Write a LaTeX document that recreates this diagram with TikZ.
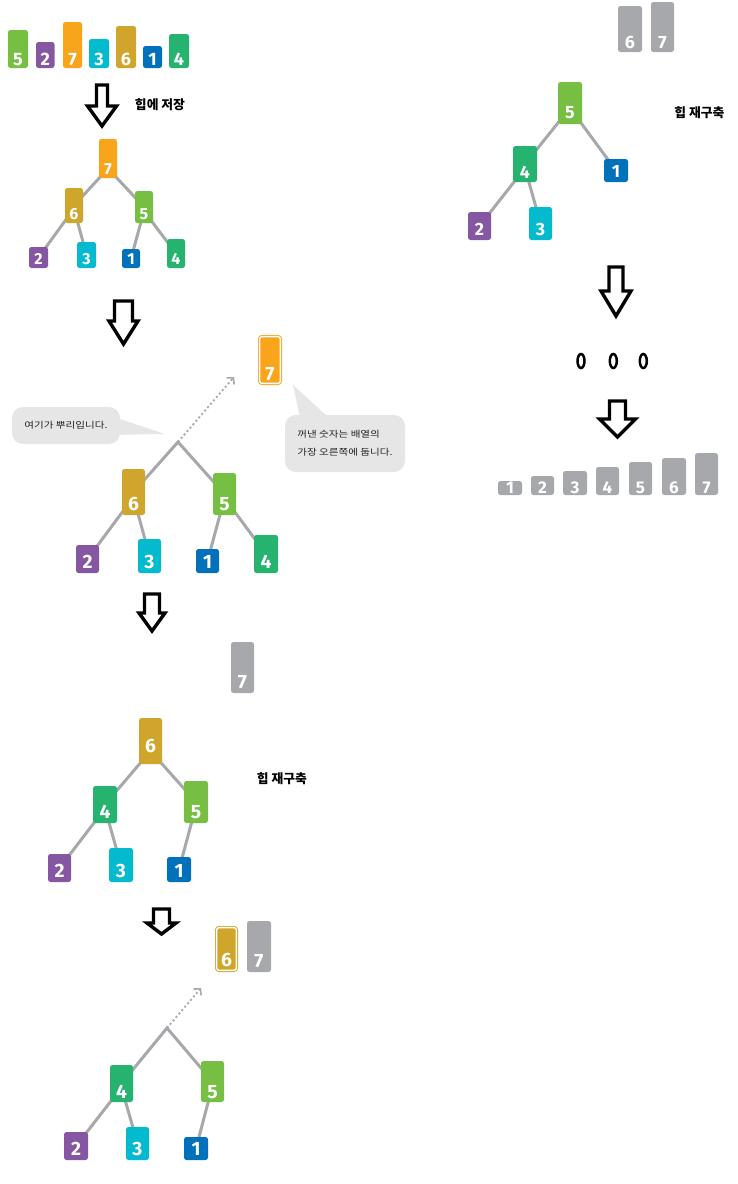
\documentclass[tikz,border=0pt]{standalone}
\usepackage{fontspec}
\usetikzlibrary{arrows.meta,calc,shapes.geometric}
\newfontfamily\numf{Fira Sans}
\newfontfamily\kr{Noto Sans CJK KR}
\newfontfamily\krw{Noto Sans CJK KR}[FakeStretch=1.2]
\definecolor{cG}{HTML}{76BF43}
\definecolor{cP}{HTML}{8557A3}
\definecolor{cO}{HTML}{F8A51C}
\definecolor{cC}{HTML}{04BACE}
\definecolor{cY}{HTML}{CFA62B}
\definecolor{cB}{HTML}{0071BA}
\definecolor{cT}{HTML}{25B36F}
\definecolor{cGr}{HTML}{A7A8AB}
\definecolor{cCall}{HTML}{E6E6E7}
\definecolor{cLine}{HTML}{A7A8AB}
\definecolor{cTxt}{HTML}{222222}
\pgfdeclarelayer{background}
\pgfsetlayers{background,main}
\tikzset{
  bx/.style={rounded corners=2.5pt, inner xsep=0pt, text depth=0pt, text=white, anchor=center},
  nA/.style={font=\numf\bfseries\fontsize{18}{18}\selectfont},
  nT/.style={font=\numf\bfseries\fontsize{16}{16}\selectfont},
  nB/.style={font=\numf\bfseries\fontsize{19.3}{19.3}\selectfont},
  nR/.style={font=\numf\bfseries\fontsize{17.8}{17.8}\selectfont},
  nF/.style={font=\numf\bfseries\fontsize{17}{17}\selectfont},
  outlO/.style={fill=cO, draw=cO, double=white, double distance=1.4pt, line width=0.9pt},
  outlY/.style={fill=cY, draw=cY, double=white, double distance=1.4pt, line width=0.9pt},
  edge/.style={draw=cLine, line width=3pt, line join=miter},
  blkarrow/.style={draw=black, line width=3.4pt, line join=miter, fill=white},
  dotarr/.style={draw=cLine, line width=1.8pt, dash pattern=on 2pt off 2.5pt, -{Straight Barb[length=4.5pt,width=10pt,line width=1.6pt]}},
  lbl/.style={font=\kr\bfseries\fontsize{12.8}{14}\selectfont, text=black, inner sep=0pt},
  callout/.style={fill=cCall, rounded corners=11pt, inner sep=0pt, font=\krw\fontsize{8.8}{18}\selectfont, text=cTxt, align=left},
  dotmark/.style={draw=black, line width=2.5pt, ellipse, inner sep=0pt, minimum width=7pt, minimum height=14pt},
}
% \mkbox[baseline offset]{name}{style}{x1}{y1}{x2}{y2}{text}
\newcommand\mkbox[8][4]{%
  \pgfmathsetmacro\bxw{#6-#4}%
  \pgfmathsetmacro\bxh{#7-#5}%
  \pgfmathsetmacro\bxth{#7-#5-2*#1}%
  \pgfmathsetmacro\bxcx{(#4+#6)/2}%
  \pgfmathsetmacro\bxcy{(#5+#7)/2}%
  \node[bx,#3,minimum width=\bxw pt,minimum height=\bxh pt,inner ysep=#1pt,text height=\bxth pt] (#2) at (\bxcx,\bxcy) {#8};%
}
% \dnarrow{cx}{shaft half}{top}{head y}{head half}{tip y}
\newcommand\dnarrow[6]{%
  \draw[blkarrow] ({#1-#2},#3) -- ({#1+#2},#3) -- ({#1+#2},#4) -- ({#1+#5},#4) -- (#1,#6) -- ({#1-#5},#4) -- ({#1-#2},#4) -- cycle;%
}
\begin{document}
\begin{tikzpicture}[x=1pt,y=-1pt]
\useasboundingbox (0,0) rectangle (738,1184);

% ---------- top array ----------
\mkbox[2.5]{a5}{fill=cG,nA}{8}{30}{28}{68}{5}
\mkbox[2.5]{a2}{fill=cP,nA}{36}{42}{54.5}{68}{2}
\mkbox[2.5]{a7}{fill=cO,nA}{63}{22}{82}{68}{7}
\mkbox[2.5]{a3}{fill=cC,nA}{89}{39}{109}{68}{3}
\mkbox[2.5]{a6}{fill=cY,nA}{116}{26}{136}{68}{6}
\mkbox[2.5]{a1}{fill=cB,nA}{143}{46}{162}{68}{1}
\mkbox[2.5]{a4}{fill=cT,nA}{169}{34}{189}{68}{4}

\dnarrow{102}{5.5}{85}{106}{14.5}{126}
\node[lbl] (lab1) at (160,105) {힙에 저장};

% ---------- tree 1 ----------
\mkbox[4]{t7}{fill=cO,nT}{99}{139}{117}{178}{7}
\mkbox[4]{t6}{fill=cY,nT}{65}{188}{83}{223}{6}
\mkbox[4]{t5}{fill=cG,nT}{135}{191}{153}{223}{5}
\mkbox[4]{t2}{fill=cP,nT}{29}{247}{48}{268}{2}
\mkbox[4]{t3}{fill=cC,nT}{77}{242}{96}{268}{3}
\mkbox[4]{t1}{fill=cB,nT}{122}{249}{140}{268}{1}
\mkbox[4]{t4}{fill=cT,nT}{167}{239}{185}{268}{4}

\dnarrow{123.5}{9}{301}{321}{14.5}{344}

% ---------- step 3 ----------
\mkbox[3.4]{o7}{outlO,nB}{259.6}{336.6}{280.4}{383.4}{7}
\coordinate (s0) at (178,442);
\coordinate (s0end) at (234,377);
\mkbox[5]{s6}{fill=cY,nB}{122}{469}{145}{515}{6}
\mkbox[5]{s5}{fill=cG,nB}{213}{473}{236}{515}{5}
\mkbox[5]{s2}{fill=cP,nB}{76}{545}{99}{573}{2}
\mkbox[5]{s3}{fill=cC,nB}{138}{539}{161}{573}{3}
\mkbox[5]{s1}{fill=cB,nB}{196}{549}{219}{573}{1}
\mkbox[5]{s4}{fill=cT,nB}{254}{535}{278}{573}{4}
\draw[dotarr] (s0) -- (s0end);

\node[callout, minimum width=108pt, minimum height=37pt] (c1) at (66,425.5) {여기가 뿌리입니다.};
\coordinate (c1tip) at (165,434);
\fill[cCall] ($(c1.north east)+(-4,11)$) -- (c1tip) -- ($(c1.north east)+(-1,28)$) -- cycle;
\node[callout, minimum width=120pt, minimum height=57pt] (c2) at (345,443.5) {꺼낸 숫자는 배열의\\가장 오른쪽에 둡니다.};
\coordinate (c2tip) at (293,385);
\fill[cCall] ($(c2.north west)+(15,2)$) -- (c2tip) -- ($(c2.north west)+(43,2)$) -- cycle;

\dnarrow{152}{7.5}{594}{613}{13}{631}

% ---------- step 4 ----------
\mkbox[5]{g7}{fill=cGr,nB}{231}{642}{254}{693}{7}
\node[lbl] (lab2) at (282,779) {힙 재구축};
\mkbox[12]{u6}{fill=cY,nB}{139}{718}{162}{764}{6}
\mkbox[5]{u4}{fill=cT,nB}{93}{786}{117}{823}{4}
\mkbox[5]{u5}{fill=cG,nB}{184}{781}{208}{823}{5}
\mkbox[5]{u2}{fill=cP,nB}{48}{854}{71}{882}{2}
\mkbox[5]{u3}{fill=cC,nB}{109}{848}{133}{882}{3}
\mkbox[5]{u1}{fill=cB,nB}{167}{857}{191}{882}{1}

\dnarrow{161.5}{8}{909}{923}{14.5}{934}

% ---------- step 5 ----------
\mkbox[3.7]{o6}{outlY,nB}{216.6}{927.6}{236.4}{970.4}{6}
\mkbox[5]{g7b}{fill=cGr,nB}{247}{921}{271}{972}{7}
\coordinate (v0) at (167,1028);
\coordinate (v0end) at (201,988);
\mkbox[4]{v4}{fill=cT,nB}{110}{1065}{133}{1102}{4}
\mkbox[4]{v5}{fill=cG,nB}{201}{1061}{224}{1102}{5}
\mkbox[5]{v2}{fill=cP,nB}{64}{1132}{88}{1160}{2}
\mkbox[5]{v3}{fill=cC,nB}{126}{1127}{149}{1160}{3}
\mkbox[5]{v1}{fill=cB,nB}{184}{1137}{208}{1160}{1}
\draw[dotarr] (v0) -- (v0end);

% ---------- right column ----------
\mkbox[4]{r6}{fill=cGr,nR}{618}{6}{642}{52}{6}
\mkbox[4]{r7}{fill=cGr,nR}{651}{2}{674}{52}{7}
\node[lbl] (lab3) at (699.5,113) {힙 재구축};
\mkbox[6]{w5}{fill=cG,nR}{558}{82}{582}{124}{5}
\mkbox[4]{w4}{fill=cT,nR}{513}{146}{537}{182}{4}
\mkbox[5]{w1}{fill=cB,nR}{604}{159}{628}{182}{1}
\mkbox[5]{w2}{fill=cP,nR}{468}{212}{491}{240}{2}
\mkbox[5]{w3}{fill=cC,nR}{529}{207}{552}{240}{3}

\dnarrow{616}{7}{267}{291}{15}{316}
\node[dotmark] (e1) at (581,361) {};
\node[dotmark] (e2) at (613.3,361) {};
\node[dotmark] (e3) at (643.3,361) {};
\dnarrow{617.5}{8}{401}{419}{18}{437}

\mkbox[1.5]{f1}{fill=cGr,nF}{498}{481}{522}{495}{1}
\mkbox[1.5]{f2}{fill=cGr,nF}{531}{476}{554}{495}{2}
\mkbox[1.5]{f3}{fill=cGr,nF}{563}{471}{587}{495}{3}
\mkbox[1.5]{f4}{fill=cGr,nF}{596}{467}{619}{495}{4}
\mkbox[1.5]{f5}{fill=cGr,nF}{629}{462}{652}{495}{5}
\mkbox[1.5]{f6}{fill=cGr,nF}{662}{458}{686}{495}{6}
\mkbox[1.5]{f7}{fill=cGr,nF}{695}{453}{718}{495}{7}

% ---------- background and edges (behind boxes) ----------
\begin{pgfonlayer}{background}
  \fill[white] (0,0) rectangle (738,1184);
  % tree 1
  \draw[edge] (t6.center) -- ([yshift=-10pt]t7.center) -- (t5.center);
  \draw[edge] (t2.center) -- ([yshift=-3pt]t6.center) -- (t3.center);
  \draw[edge] (t1.center) -- ([yshift=-4pt]t5.center) -- (t4.center);
  % tree 3
  \draw[edge] (s6.center) -- (s0) -- (s5.center);
  \draw[edge] (s2.center) -- ([yshift=-5pt]s6.center) -- (s3.center);
  \draw[edge] (s1.center) -- ([yshift=-4pt]s5.center) -- (s4.center);
  % tree 4
  \draw[edge] (u4.center) -- ([yshift=-10pt]u6.center) -- (u5.center);
  \draw[edge] (u2.center) -- ([yshift=-4pt]u4.center) -- (u3.center);
  \draw[edge] ([yshift=-4pt]u5.center) -- (u1.center);
  % tree 5
  \draw[edge] (v4.center) -- (v0) -- (v5.center);
  \draw[edge] (v2.center) -- ([yshift=-4pt]v4.center) -- (v3.center);
  \draw[edge] ([yshift=-4pt]v5.center) -- (v1.center);
  % right tree
  \draw[edge] (w4.center) -- ([yshift=-5pt]w5.center) -- (w1.center);
  \draw[edge] (w2.center) -- ([yshift=-4pt]w4.center) -- (w3.center);
\end{pgfonlayer}
\end{tikzpicture}
\end{document}
